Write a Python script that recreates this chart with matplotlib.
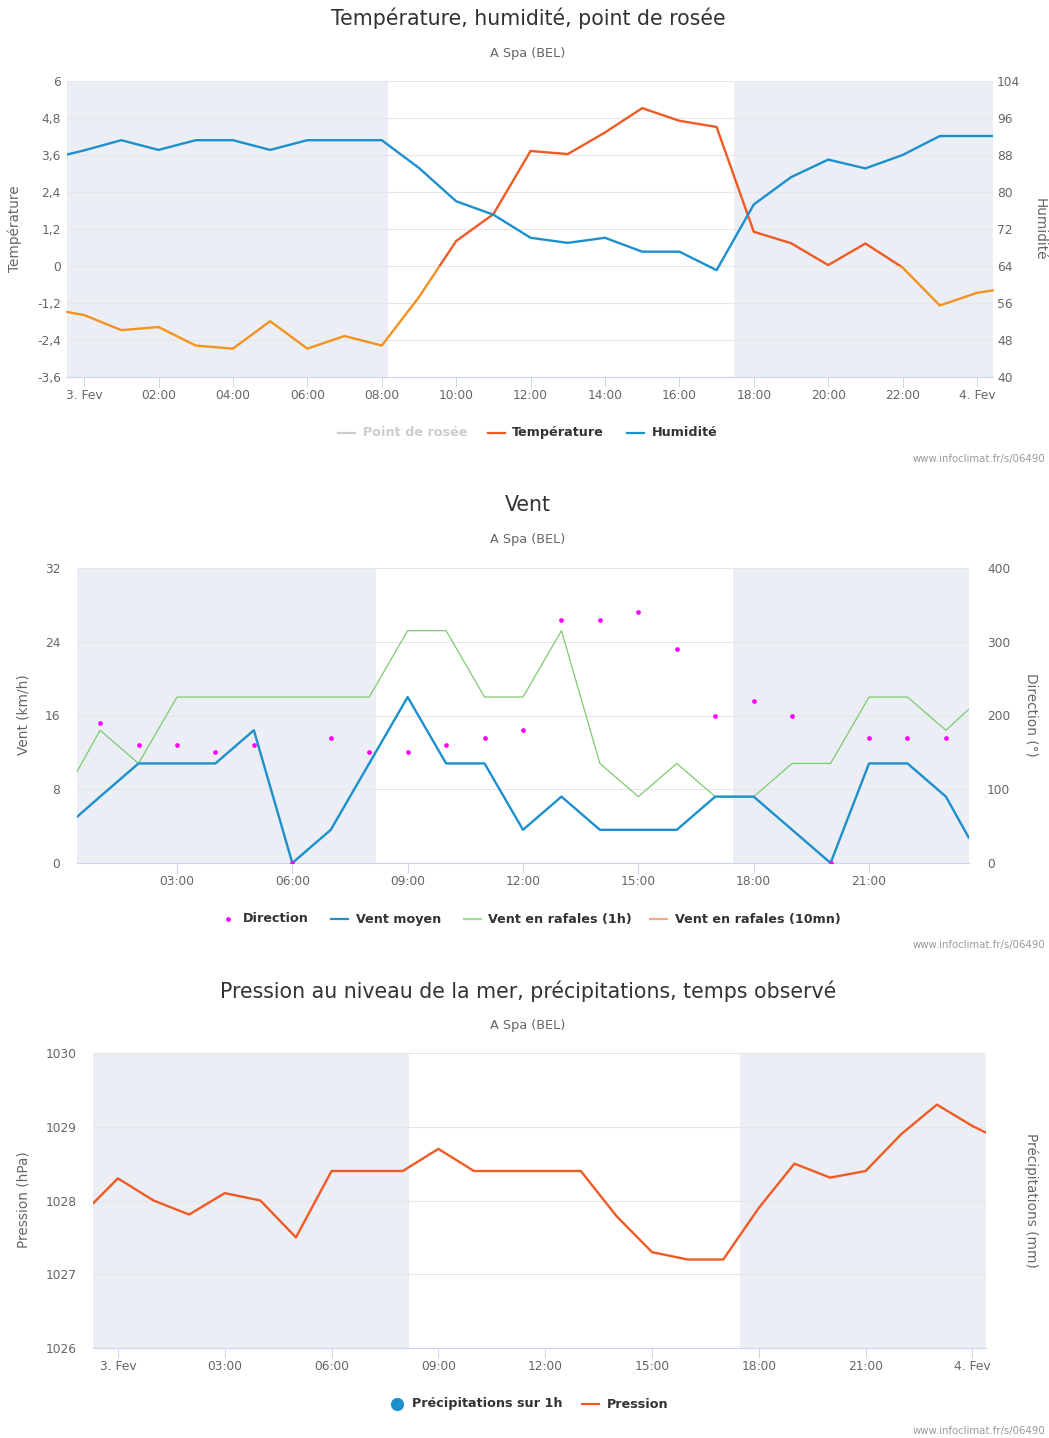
import matplotlib
matplotlib.use("Agg")
import matplotlib.pyplot as plt
from matplotlib.patches import Rectangle
from matplotlib.lines import Line2D

# ---------------- data ----------------
top_hours = [-0.46, 0, 1, 2, 3, 4, 5, 6, 7, 8, 9, 10, 11, 12, 13, 14, 15, 16, 17,
             18, 19, 20, 21, 22, 23, 24, 24.43]
temperature = [-1.49, -1.59, -2.08, -1.98, -2.58, -2.68, -1.79, -2.68, -2.27, -2.58,
               -1.01, 0.81, 1.68, 3.73, 3.63, 4.33, 5.12, 4.71, 4.51, 1.11, 0.74,
               0.03, 0.73, -0.05, -1.28, -0.87, -0.79]
humidity = [88.1, 89.0, 91.2, 89.1, 91.2, 91.2, 89.1, 91.2, 91.2, 91.2, 85.2, 78.0,
            75.1, 70.1, 69.0, 70.1, 67.1, 67.1, 63.1, 77.3, 83.2, 87.0, 85.1, 88.0,
            92.1, 92.1, 92.1]

wind_hours = [0.4, 1, 2, 3, 4, 5, 6, 7, 8, 9, 10, 11, 12, 13, 14, 15, 16, 17, 18,
              19, 20, 21, 22, 23, 23.6]
wind_mean = [5.0, 7.2, 10.8, 10.8, 10.8, 14.4, 0.0, 3.6, 10.8, 18.0, 10.8, 10.8, 3.6,
             7.2, 3.6, 3.6, 3.6, 7.2, 7.2, 3.6, 0.0, 10.8, 10.8, 7.2, 2.7]
wind_gust = [9.9, 14.4, 10.8, 18.0, 18.0, 18.0, 18.0, 18.0, 18.0, 25.2, 25.2, 18.0,
             18.0, 25.2, 10.8, 7.2, 10.8, 7.2, 7.2, 10.8, 10.8, 18.0, 18.0, 14.4, 16.7]
dir_hours = [1, 2, 3, 4, 5, 6, 7, 8, 9, 10, 11, 12, 13, 14, 15, 16, 17, 18, 19, 20,
             21, 22, 23]
direction = [190, 160, 160, 150, 160, 0, 170, 150, 150, 160, 170, 180, 330, 330, 340,
             290, 200, 220, 200, 0, 170, 170, 170]

pres_hours = [-0.7, 0, 1, 2, 3, 4, 5, 6, 7, 8, 9, 10, 11, 12, 13, 14, 15, 16, 17, 18,
              19, 20, 21, 22, 23, 24, 24.38]
pressure = [1027.96, 1028.3, 1028.0, 1027.81, 1028.1, 1028.0, 1027.5, 1028.4, 1028.4,
            1028.4, 1028.7, 1028.4, 1028.4, 1028.4, 1028.4, 1027.79, 1027.3, 1027.2,
            1027.2, 1027.9, 1028.5, 1028.31, 1028.4, 1028.9, 1029.3, 1029.01, 1028.92]

night_bands = [(-1.0, 8.17), (17.47, 25.0)]

temp_ticks = [-3.6, -2.4, -1.2, 0, 1.2, 2.4, 3.6, 4.8, 6]
temp_tick_labels = ["-3,6", "-2,4", "-1,2", "0", "1,2", "2,4", "3,6", "4,8", "6"]
hum_ticks = [40, 48, 56, 64, 72, 80, 88, 96, 104]
top_xticks = [0, 2, 4, 6, 8, 10, 12, 14, 16, 18, 20, 22, 24]
top_xlabels = ["3. Fev", "02:00", "04:00", "06:00", "08:00", "10:00", "12:00",
               "14:00", "16:00", "18:00", "20:00", "22:00", "4. Fev"]
wind_ticks = [0, 8, 16, 24, 32]
dir_ticks = [0, 100, 200, 300, 400]
mid_xticks = [3, 6, 9, 12, 15, 18, 21]
mid_xlabels = ["03:00", "06:00", "09:00", "12:00", "15:00", "18:00", "21:00"]
pres_ticks = [1026, 1027, 1028, 1029, 1030]
bot_xticks = [0, 3, 6, 9, 12, 15, 18, 21, 24]
bot_xlabels = ["3. Fev", "03:00", "06:00", "09:00", "12:00", "15:00", "18:00",
               "21:00", "4. Fev"]

titles = ["Température, humidité, point de rosée", "Vent",
          "Pression au niveau de la mer, précipitations, temps observé"]
subtitle = "A Spa (BEL)"
credit = "www.infoclimat.fr/s/06490"

# ---------------- style ----------------
C_BLUE = "#1C8FCD"
C_ORANGE = "#F3921F"
C_RED = "#F05A24"
C_GREEN = "#7DCB6E"
C_MAG = "#FF00FF"
C_SALMON = "#F9A98B"
C_BAND = "#EBEEF5"
C_GRID = "#E6E6E6"
C_AXIS = "#CCD6EB"
C_LBL = "#666666"
C_TXT = "#333333"

FS_TICK = 8.8
FS_TITLE = 14.8
FS_SUB = 9.3
FS_AXT = 9.8
FS_LEG = 9.2
FS_CRED = 7.3

W, H = 1049, 1438
fig = plt.figure(figsize=(W / 100, H / 100), dpi=100)
fig.patch.set_facecolor("white")


def fx(x):
    return x / W


def fy(y):
    return 1 - y / H


def make_axes(x0, y0, x1, y1):
    ax = fig.add_axes([fx(x0), fy(y1), (x1 - x0) / W, (y1 - y0) / H])
    for s in ["top", "left", "right"]:
        ax.spines[s].set_visible(False)
    ax.spines["bottom"].set_color(C_AXIS)
    ax.spines["bottom"].set_linewidth(0.8)
    ax.spines["bottom"].set_zorder(3)
    ax.grid(axis="y", color=C_GRID, lw=0.8, zorder=0.5)
    ax.set_axisbelow(True)
    ax.tick_params(axis="x", length=7.5, width=0.7, color=C_AXIS, pad=1,
                   labelsize=FS_TICK, labelcolor=C_LBL)
    ax.tick_params(axis="y", length=0, labelsize=FS_TICK, labelcolor=C_LBL)
    for b0, b1 in night_bands:
        ax.axvspan(b0, b1, color=C_BAND, lw=0, zorder=0.1)
    return ax


def make_twin(ax):
    a2 = ax.twinx()
    for s in a2.spines.values():
        s.set_visible(False)
    a2.tick_params(axis="y", length=0, labelsize=FS_TICK, labelcolor=C_LBL)
    return a2


def fig_text(x, y, s, **kw):
    fig.text(fx(x), fy(y), s, **kw)


def legend_line(x, y, col, lw=1.6):
    fig.add_artist(Line2D([fx(x), fx(x + 17)], [fy(y), fy(y)], color=col,
                          lw=lw, transform=fig.transFigure))


def legend_text(x, y, s, col=C_TXT):
    fig_text(x, y, s, ha="left", va="center", fontsize=FS_LEG,
             fontweight="bold", color=col)


# ================= chart 1 =================
ax1 = make_axes(67, 81, 993, 377)
ax1.set_xlim(-0.46, 24.43)
ax1.set_ylim(-3.6, 6)
ax1.set_yticks(temp_ticks)
ax1.set_yticklabels(temp_tick_labels)
ax1.tick_params(axis="y", pad=4.5)
ax1.set_xticks(top_xticks)
ax1.set_xticklabels(top_xlabels)

below = Rectangle((-5, -10), 40, 10, transform=ax1.transData)
above = Rectangle((-5, 0), 40, 20, transform=ax1.transData)
l_or, = ax1.plot(top_hours, temperature, color=C_ORANGE, lw=1.7,
                 solid_joinstyle="round", solid_capstyle="round", zorder=3)
l_or.set_clip_path(below)
l_rd, = ax1.plot(top_hours, temperature, color=C_RED, lw=1.7,
                 solid_joinstyle="round", solid_capstyle="round", zorder=3)
l_rd.set_clip_path(above)

ax1b = make_twin(ax1)
ax1b.set_ylim(40, 104)
ax1b.set_yticks(hum_ticks)
ax1b.tick_params(axis="y", pad=3)
ax1b.plot(top_hours, humidity, color=C_BLUE, lw=1.7,
          solid_joinstyle="round", solid_capstyle="round", zorder=3)

fig_text(528, 18, titles[0], ha="center", va="center", fontsize=FS_TITLE, color=C_TXT)
fig_text(528, 54, subtitle, ha="center", va="center", fontsize=FS_SUB, color=C_LBL)
fig_text(15, 229, "Température", ha="center", va="center", rotation=90,
         fontsize=FS_AXT, color=C_LBL)
fig_text(1040, 229, "Humidité", ha="center", va="center", rotation=270,
         fontsize=FS_AXT, color=C_LBL)
fig_text(1045, 459, credit, ha="right", va="center", fontsize=FS_CRED, color="#999999")

legend_line(338, 433, "#CCCCCC")
legend_text(363, 433, "Point de rosée", "#CCCCCC")
legend_line(488, 433, C_RED)
legend_text(512, 433, "Température")
legend_line(627, 433, C_BLUE)
legend_text(652, 433, "Humidité")

# ================= chart 2 =================
ax2 = make_axes(77, 568, 969, 863)
ax2.set_xlim(0.4, 23.6)
ax2.set_ylim(0, 32)
ax2.set_yticks(wind_ticks)
ax2.tick_params(axis="y", pad=12)
ax2.set_xticks(mid_xticks)
ax2.set_xticklabels(mid_xlabels)
ax2.plot(wind_hours, wind_gust, color=C_GREEN, lw=0.9, zorder=3)
ax2.plot(wind_hours, wind_mean, color=C_BLUE, lw=1.7,
         solid_joinstyle="round", solid_capstyle="round", zorder=3)

ax2b = make_twin(ax2)
ax2b.set_ylim(0, 400)
ax2b.set_yticks(dir_ticks)
ax2b.tick_params(axis="y", pad=13)
ax2b.plot(dir_hours, direction, linestyle="none", marker="o", ms=3.4,
          color=C_MAG, mec="none", zorder=4)

fig_text(528, 505, titles[1], ha="center", va="center", fontsize=FS_TITLE, color=C_TXT)
fig_text(528, 540, subtitle, ha="center", va="center", fontsize=FS_SUB, color=C_LBL)
fig_text(24, 715, "Vent (km/h)", ha="center", va="center", rotation=90,
         fontsize=FS_AXT, color=C_LBL)
fig_text(1031, 715, "Direction (°)", ha="center", va="center", rotation=270,
         fontsize=FS_AXT, color=C_LBL)
fig_text(1045, 945, credit, ha="right", va="center", fontsize=FS_CRED, color="#999999")

fig.add_artist(Line2D([fx(228)], [fy(919)], marker="o", ms=3.4, color=C_MAG,
                      mec="none", linestyle="none", transform=fig.transFigure))
legend_text(243, 919, "Direction")
legend_line(331, 919, C_BLUE)
legend_text(356, 919, "Vent moyen")
legend_line(464, 919, "#A8DB9B")
legend_text(488, 919, "Vent en rafales (1h)")
legend_line(650, 919, C_SALMON)
legend_text(675, 919, "Vent en rafales (10mn)")

# ================= chart 3 =================
ax3 = make_axes(93, 1053, 986, 1348)
ax3.set_xlim(-0.7, 24.38)
ax3.set_ylim(1026, 1030)
ax3.set_yticks(pres_ticks)
ax3.tick_params(axis="y", pad=12)
ax3.set_xticks(bot_xticks)
ax3.set_xticklabels(bot_xlabels)
ax3.plot(pres_hours, pressure, color=C_RED, lw=1.7,
         solid_joinstyle="round", solid_capstyle="round", zorder=3)
ax3b = make_twin(ax3)
ax3b.set_yticks([])

fig_text(528, 991, titles[2], ha="center", va="center", fontsize=FS_TITLE, color=C_TXT)
fig_text(528, 1026, subtitle, ha="center", va="center", fontsize=FS_SUB, color=C_LBL)
fig_text(24, 1200, "Pression (hPa)", ha="center", va="center", rotation=90,
         fontsize=FS_AXT, color=C_LBL)
fig_text(1031, 1200, "Précipitations (mm)", ha="center", va="center", rotation=270,
         fontsize=FS_AXT, color=C_LBL)
fig_text(1045, 1431, credit, ha="right", va="center", fontsize=FS_CRED, color="#999999")

fig.add_artist(Line2D([fx(397)], [fy(1404)], marker="o", ms=9.5, color=C_BLUE,
                      mec="none", linestyle="none", transform=fig.transFigure))
legend_text(412, 1404, "Précipitations sur 1h")
legend_line(582, 1404, C_RED)
legend_text(607, 1404, "Pression")

fig.savefig("out.png", dpi=100, facecolor="white")
